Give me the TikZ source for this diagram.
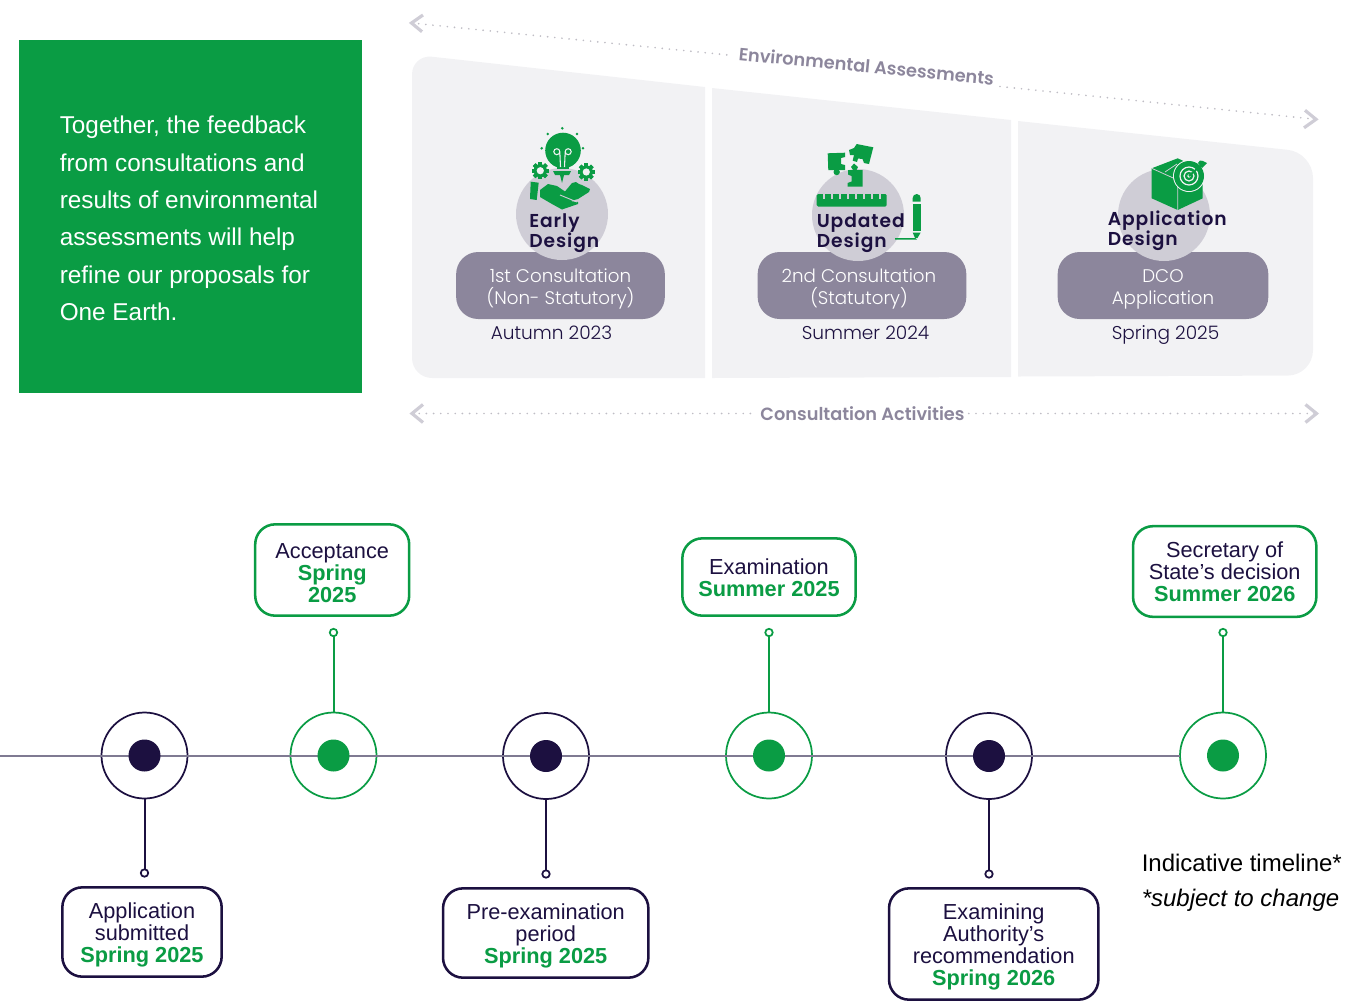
\documentclass[tikz,border=0pt]{standalone}
\usepackage{fontspec}
\setmainfont{Liberation Sans}
\newfontfamily\popl{Poppins Light}
\newfontfamily\popb[LetterSpace=5]{Poppins SemiBold}
\newfontfamily\popm{Poppins SemiBold}
\definecolor{grn}{HTML}{0A9C44}
\definecolor{navy}{HTML}{1C1040}
\definecolor{panelc}{HTML}{F2F2F4}
\definecolor{circc}{HTML}{CFCDD6}
\definecolor{pillc}{HTML}{8C869C}
\definecolor{linec}{HTML}{7F7A92}
\newcommand{\nudge}[1]{\rule{0pt}{\dimexpr 11.8pt+1.5pt*#1\relax}}
\tikzset{
  panel/.style={fill=panelc},
  pill/.style={rectangle,rounded corners=16.5pt,fill=pillc,text=white,minimum width=156.5pt,minimum height=50.25pt,inner sep=0pt,align=center,font=\popl\fontsize{13.7}{16.5}\selectfont},
  disc/.style={circle,fill=circc,minimum size=69pt,inner sep=0pt,outer sep=0pt},
  datelabel/.style={text=navy,inner sep=0pt,anchor=base,font=\popl\fontsize{13.9}{16.5}\selectfont},
  designlabel/.style={text=navy,inner sep=0pt,align=left,font=\popb\fontsize{14}{15}\selectfont},
  dots/.style={circc!80!gray,line width=1.4pt,line cap=round,dash pattern=on 0pt off 5.4pt},
  chev/.style={circc,line width=2.4pt},
  band/.style={text=pillc,inner sep=0pt,font=\popm\fontsize{13.3}{15}\selectfont},
  ring/.style={circle,draw=#1,line width=1.3pt,minimum size=64.5pt,inner sep=0pt,outer sep=0pt},
  dotc/.style={circle,fill=#1,minimum size=24pt,inner sep=0pt,outer sep=0pt},
  pin/.style={circle,draw=#1,fill=white,line width=1.3pt,minimum size=5.6pt,inner sep=0pt,outer sep=0pt},
  stem/.style={draw=#1,line width=1.5pt},
  msg/.style={rectangle,rounded corners=15pt,draw=#1,fill=white,line width=1.9pt,inner sep=0pt,align=center,text=navy,font=\fontsize{16.3}{16.5}\selectfont},
  icon/.style={fill=grn,draw=none}
}
\newcommand{\gearicon}[2]{%
  \foreach \a in {0,45,...,315}{\fill[grn,rotate around={\a:(#1,#2)}] (#1-1.9,#2-8.6) rectangle (#1+1.9,#2+8.6);}
  \fill[grn] (#1,#2) circle[radius=6.6];
  \fill[panelc] (#1,#2) circle[radius=3.6];
}
\begin{document}
\begin{tikzpicture}[x=0.75pt,y=-0.75pt]
\useasboundingbox (0,0) rectangle (1365,1001);
% green statement box
\node[fill=grn,minimum width=257.25pt,minimum height=264.75pt,inner sep=0pt] (stmt) at (190,216.5) {};
\node[text=white,inner sep=0pt,align=left,anchor=west,font=\fontsize{18.25}{28}\selectfont] (stmttext) at (59.5,218.5) {Together, the feedback\\from consultations and\\results of environmental\\assessments will help\\refine our proposals for\\One Earth.};
% panels
\fill[panel] (705,378) [rounded corners=15pt] -- (412,378) -- (412,54.5) [sharp corners] -- (705,87) -- cycle;
\fill[panel] (712,88) -- (1011,120) -- (1011,377) -- (712,378) -- cycle;
\fill[panel] (1018,121) [rounded corners=19pt] -- (1313,152.5) -- (1313,375.5) [sharp corners] -- (1018,376.5) -- cycle;
% pills
\node[pill] (p1) at (560.5,285.5) {\nudge{2}1st Consultation\\(Non- Statutory)};
\node[pill] (p2) at (862,285.5) {\hspace*{-4.5pt}\nudge{2}2nd Consultation\\\hspace*{-4.5pt}(Statutory)};
\node[pill,minimum width=158pt] (p3) at (1163,285.5) {\nudge{2}DCO\\Application};
% discs
\node[disc] (d1) at (562,214) {};
\node[disc] (d2) at (858,215) {};
\node[disc] (d3) at (1164,215) {};
% icon: bulb, gears and hand
\fill[icon] (563,150.5) circle[radius=17.8];
\fill[icon] (557,165) rectangle (569,168.5);
\fill[icon] (553,171) -- (571,171) -- (569,175) -- (564,175) -- (562,183) -- (560,175) -- (555,175) -- cycle;
\foreach \rx/\ry in {562.3/128.3,547.7/134,577/134,541.7/148.3,583/148.3}{\fill[grn] (\rx,\ry) circle[radius=1.4];}
\draw[panelc,line width=0.8pt] (556.8,151.7) circle[radius=3] (568.2,151.7) circle[radius=3] (559.8,151.7) -- (560.5,167) (565.2,151.7) -- (564.5,167);
\gearicon{540.3}{170.7}
\gearicon{586.3}{172}
\fill[icon] (530.7,181.7) -- (538.7,182.7) -- (536.7,200) -- (530,199) -- cycle;
\fill[icon] (540,190) -- (548,184) -- (557,186) -- (565,191.5) -- (572,183) -- (576,182) -- (579,184) -- (582,185) -- (590,189) -- (589,192) -- (578,199) -- (570,201) -- (578,202) -- (578,204) -- (562,209.5) -- (552,204) -- (540,197) -- cycle;
\draw[circc,line width=0.7pt] (560,195) -- (577,202);
% icon: puzzle, ruler and pencil
\fill[icon] (827.7,153.3) -- (845,152.7) -- (845,157) -- (841,158) -- (841,164) -- (845,165) -- (845,170) -- (828.3,170) -- cycle;
\fill[icon] (836.7,172) circle[radius=3.2];
\fill[icon] (856.7,144) -- (873.3,147.3) -- (869,164) -- (864,163) -- (862.5,159) -- (858,158.5) -- (857,162) -- (852.7,160.7) -- (854,155) -- (850,155) -- (849,150) -- (854,148) -- cycle;
\fill[icon] (853,170) -- (851,167) -- (854,163.5) -- (858,167) -- (856.5,170) -- (862.7,170) -- (862.7,186.7) -- (847.7,186.7) -- (847.7,183) -- (851.5,181.5) -- (851.5,176) -- (848,174.5) -- (848,170) -- cycle;
\fill[icon,rounded corners=1pt] (816.7,194) rectangle (886.7,206.5);
\foreach \tx in {824,832,840,848,856,864,872,880}{\fill[circc] (\tx-0.9,194) rectangle (\tx+0.9,198.5);}
\fill[icon] (912.7,201.5) -- (912.7,198) arc[start angle=180,end angle=360,radius=4] -- (920.7,201.5) -- cycle;
\fill[icon] (912.7,203.5) rectangle (920.7,231);
\fill[icon] (912.7,232.5) -- (920.7,232.5) -- (917.5,238) -- (895,238) -- (895,239.6) -- (917,239.6) -- (915,238) -- cycle;
% icon: box and target
\fill[icon] (1177.7,158.3) -- (1151.7,168.3) -- (1151.7,198.3) -- (1177.7,210) -- (1202.7,198.3) -- (1202.7,170) -- cycle;
\draw[circc,line width=0.6pt] (1151.7,168.3) -- (1177.7,180) -- (1177.7,210);
\draw[circc,line width=0.6pt] (1165,172) -- (1177,164);
\fill[panelc] (1189,176) circle[radius=16];
\fill[grn] (1189,176) circle[radius=15];
\draw[panelc,line width=0.9pt] (1189,176) circle[radius=9] (1189,176) circle[radius=5];
\fill[panelc] (1189,176) circle[radius=1.8];
\draw[grn,line width=1.5pt] (1189,176) -- (1202,164.5);
\fill[grn] (1198,163) -- (1200,160.5) -- (1203,161) -- (1207,163) -- (1202,168) -- cycle;
% design labels
\node[designlabel,anchor=north west] (l1) at (529,213) {Early\\Design};
\node[designlabel,anchor=north west] (l2) at (816.5,213) {Updated\\Design};
\node[designlabel,anchor=north west] (l3) at (1107.5,211) {Application\\Design};
% dates
\node[datelabel] (t1) at (551.5,339) {Autumn 2023};
\node[datelabel] (t2) at (865.5,339) {Summer 2024};
\node[datelabel] (t3) at (1165.5,339) {Spring 2025};
% environmental assessments arrow
\coordinate (ea) at (411.5,23);
\coordinate (eb) at (1316,119.3);
\node[band,rotate=-5.6] (ealabel) at (866.5,66) {Environmental Assessments};
\draw[dots] (ea) -- (733,55.5);
\draw[dots] (1000,86.5) -- (eb);
\draw[chev] ([shift={(11.5,-8)}]ea) -- (ea) -- ([shift={(10.5,8.7)}]ea);
\draw[chev] ([shift={(-11,-9)}]eb) -- (eb) -- ([shift={(-12,8.5)}]eb);
% consultation activities arrow
\coordinate (ca) at (412,413.5);
\coordinate (cb) at (1316.5,413.5);
\node[band,inner xsep=3pt] (calabel) at (862.5,413.5) {Consultation Activities};
\draw[dots] (ca) -- (calabel.west);
\draw[dots] (calabel.east) -- (cb);
\draw[chev] ([shift={(11,-9)}]ca) -- (ca) -- ([shift={(11,9)}]ca);
\draw[chev] ([shift={(-11,-9)}]cb) -- (cb) -- ([shift={(-11,9)}]cb);
% timeline
\coordinate (tstart) at (0,755.5);
\node[ring=navy] (r1) at (144.5,755.5) {};
\node[ring=grn] (r2) at (333.5,755.5) {};
\node[ring=navy] (r3) at (546,756) {};
\node[ring=grn] (r4) at (769,755.5) {};
\node[ring=navy] (r5) at (989,756) {};
\node[ring=grn] (r6) at (1223,755.5) {};
\draw[linec,line width=1.5pt] (tstart) -- (r6.west);
\node[dotc=navy] (c1) at (r1) {};
\node[dotc=grn] (c2) at (r2) {};
\node[dotc=navy] (c3) at (r3) {};
\node[dotc=grn] (c4) at (r4) {};
\node[dotc=navy] (c5) at (r5) {};
\node[dotc=grn] (c6) at (r6) {};
% pins
\node[pin=navy] (n1) at (144.5,873) {};
\node[pin=grn] (n2) at (333.5,632.5) {};
\node[pin=navy] (n3) at (546,874) {};
\node[pin=grn] (n4) at (769,632.5) {};
\node[pin=navy] (n5) at (989,874) {};
\node[pin=grn] (n6) at (1223,632.5) {};
\draw[stem=navy] (r1.south) -- (n1.north);
\draw[stem=grn] (r2.north) -- (n2.south);
\draw[stem=navy] (r3.south) -- (n3.north);
\draw[stem=grn] (r4.north) -- (n4.south);
\draw[stem=navy] (r5.south) -- (n5.north);
\draw[stem=grn] (r6.north) -- (n6.south);
% message boxes
\node[msg=navy,minimum width=119.5pt,minimum height=67pt] (b1) at (142,932) {\nudge{3}Application\\submitted\\\textcolor{grn}{\textbf{Spring 2025}}};
\node[msg=grn,minimum width=115.5pt,minimum height=68.5pt] (b2) at (332.2,570) {\nudge{3}Acceptance\\\textcolor{grn}{\textbf{Spring}}\\\textcolor{grn}{\textbf{2025}}};
\node[msg=navy,minimum width=154pt,minimum height=67pt] (b3) at (545.7,933) {\nudge{3}Pre-examination\\period\\\textcolor{grn}{\textbf{Spring 2025}}};
\node[msg=grn,minimum width=130pt,minimum height=58pt] (b4) at (769,577) {\nudge{1}Examination\\\textcolor{grn}{\textbf{Summer 2025}}};
\node[msg=navy,minimum width=157pt,minimum height=83.5pt] (b5) at (993.7,944) {\nudge{3}Examining\\Authority’s\\recommendation\\\textcolor{grn}{\textbf{Spring 2026}}};
\node[msg=grn,minimum width=137.5pt,minimum height=68pt] (b6) at (1224.7,571.5) {Secretary of\\State’s decision\\\textcolor{grn}{\textbf{Summer 2026}}};
% note
\node[anchor=west,inner sep=0pt,font=\fontsize{18}{20}\selectfont] (note1) at (1141.5,863) {Indicative timeline*};
\node[anchor=west,inner sep=0pt,font=\itshape\fontsize{18}{20}\selectfont] (note2) at (1141.5,900) {*subject to change};
\end{tikzpicture}
\end{document}
